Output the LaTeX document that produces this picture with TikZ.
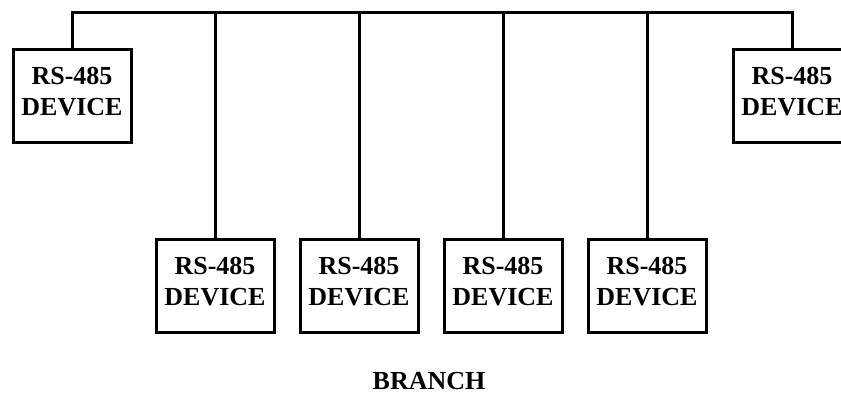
\documentclass[tikz,border=0pt]{standalone}
\usepackage{fontspec}
\setmainfont{Liberation Serif}
\usepackage{tikz}
\usetikzlibrary{positioning}

\begin{document}
\begin{tikzpicture}[x=0.75pt, y=-0.75pt,
        dev/.style={draw, line width=2.25pt, minimum width=88.5pt, minimum height=69.75pt,
            align=center, text depth=6pt, font=\bfseries\fontsize{19.5}{23.25}\selectfont},
        bus/.style={line width=2.25pt}]
        \useasboundingbox (0, 0) rectangle (841, 394);
        \clip (0, 0) rectangle (841, 394);

        \node[dev] (a) at (72, 95.5) {RS-485\\DEVICE};
        \node[dev] (b) at (792, 95.5) {RS-485\\DEVICE};
        \node[dev] (c) at (215, 285.5) {RS-485\\DEVICE};
        \node[dev] (d) at (359, 285.5) {RS-485\\DEVICE};
        \node[dev] (e) at (503, 285.5) {RS-485\\DEVICE};
        \node[dev] (f) at (647, 285.5) {RS-485\\DEVICE};

        \coordinate (p) at (72, 12);
        \coordinate (q) at (792, 12);

        \draw[bus] (a.north) -- (p) -- (q) -- (b.north);
        \draw[bus] (c) to (c |- p)
            (d) to (d |- p)
            (e) to (e |- p)
            (f) to (f |- p);

        \node[font=\bfseries\fontsize{19.5}{23.25}\selectfont] (g) at (429, 381) {BRANCH};
    \end{tikzpicture}
\end{document}
